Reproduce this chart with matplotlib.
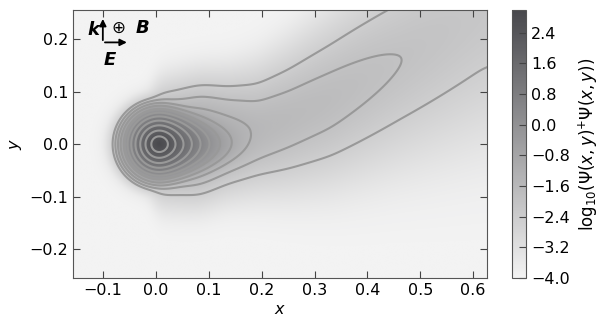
import numpy as np
import matplotlib.pyplot as plt
from matplotlib.colors import LinearSegmentedColormap

plt.rcParams['font.family'] = ['DejaVu Sans']
plt.rcParams['mathtext.fontset'] = 'dejavusans'
plt.rcParams['font.size'] = 11.5

# contour levels and colorbar ticks (log10 density)
levels = [-2.5, -2.0, -1.5, -1.0, -0.5, 0.0, 0.5, 1.0, 1.5, 2.0, 2.5]
cbar_ticks = [-4.0, -3.2, -2.4, -1.6, -0.8, 0.0, 0.8, 1.6, 2.4]
x_ticks = [-0.1, 0.0, 0.1, 0.2, 0.3, 0.4, 0.5, 0.6]
y_ticks = [-0.2, -0.1, 0.0, 0.1, 0.2]

# bound core: ring radius (read on the left side) vs log10 density
core_center = [0.006, 0.0]
core_r = [0.0, 0.015, 0.026, 0.036, 0.045, 0.053, 0.060, 0.067, 0.073, 0.078, 0.083, 0.088, 0.108, 0.3]
core_logrho = [2.95, 2.5, 2.0, 1.5, 1.0, 0.5, 0.0, -0.5, -1.0, -1.5, -2.0, -2.5, -4.0, -14.0]
core_stretch = 6.0  # egg shape toward +x

# ionised tail: peak log10 density, centre line and width along x
tail_x = [-0.2, -0.06, -0.02, 0.0, 0.081, 0.138, 0.19, 0.25, 0.33, 0.46, 0.62, 0.75]
tail_peak = [-14.0, -6.0, -2.5, -1.1, -0.85, -1.3, -1.62, -1.7, -1.78, -2.0, -2.2, -2.3]
tail_center = [0.0, 0.0, 0.0, 0.0, 0.008, 0.018, 0.028, 0.048, 0.084, 0.157, 0.255, 0.325]
tail_width = [0.07, 0.07, 0.07, 0.07, 0.072, 0.076, 0.086, 0.1, 0.12, 0.155, 0.205, 0.24]

xg = np.linspace(-0.16, 0.63, 800)
yg = np.linspace(-0.26, 0.26, 520)
xx, yy = np.meshgrid(xg, yg)


def smooth(v, n=14):
    k = np.exp(-0.5 * (np.arange(-3 * n, 3 * n + 1) / n) ** 2)
    k /= k.sum()
    vp = np.pad(v, 3 * n, mode='edge')
    return np.convolve(vp, k, mode='valid')


t_peak = smooth(np.interp(xg, tail_x, tail_peak))
t_cen = smooth(np.interp(xg, tail_x, tail_center))
t_wid = smooth(np.interp(xg, tail_x, tail_width))

dx = xx - core_center[0]
dy = yy - core_center[1]
sx = np.where(dx > 0, 1 + core_stretch * dx, 1.0)
r_eff = np.sqrt((dx / sx) ** 2 + dy ** 2)
core = 10 ** np.interp(r_eff, core_r, core_logrho)

u = np.abs(yy - t_cen[None, :]) / t_wid[None, :]
prof = (u ** 2 + 0.09) ** 0.75 - 0.09 ** 0.75
tail = 10 ** (t_peak[None, :] - prof)

logrho = np.log10(core + tail + 1e-4)

cmap = LinearSegmentedColormap.from_list('grey', ['#f3f3f3', '#48484c'])

fig = plt.figure(figsize=(6.04, 3.29), dpi=100)
ax = fig.add_axes([0.121, 0.155, 0.685, 0.815])
cax = fig.add_axes([0.848, 0.155, 0.023, 0.815])

im = ax.imshow(logrho, extent=[xg[0], xg[-1], yg[0], yg[-1]], origin='lower',
               cmap=cmap, vmin=-4.0, vmax=3.0, aspect='auto', interpolation='bilinear')
ax.contour(xx, yy, logrho, levels=levels, colors='#999999', linewidths=1.5,
           linestyles='solid')

ax.set_xlim(-0.157, 0.626)
ax.set_ylim(-0.255, 0.256)
ax.set_xticks(x_ticks)
ax.set_yticks(y_ticks)
ax.set_xticklabels([f'{v:.1f}'.replace('-', '\u2212') for v in x_ticks])
ax.set_yticklabels([f'{v:.1f}'.replace('-', '\u2212') for v in y_ticks])
ax.tick_params(direction='in', top=True, right=True, length=5, color='#444444')
for s in ax.spines.values():
    s.set_color('#555555')
ax.set_xlabel('$x$', labelpad=3)
ax.set_ylabel('$y$', labelpad=4)

# field orientation sketch
ax.annotate('', xy=(-0.1007, 0.244), xytext=(-0.1007, 0.193),
            arrowprops=dict(arrowstyle='-|>', color='black', lw=1.3, mutation_scale=10))
ax.annotate('', xy=(-0.05, 0.194), xytext=(-0.102, 0.194),
            arrowprops=dict(arrowstyle='-|>', color='black', lw=1.3, mutation_scale=10))
ax.text(-0.118, 0.217, 'k', fontweight='bold', style='italic', ha='center', va='center', fontsize=13)
ax.text(-0.072, 0.222, '\u2295', ha='center', va='center', fontsize=12)
ax.text(-0.026, 0.222, 'B', fontweight='bold', style='italic', ha='center', va='center', fontsize=13)
ax.text(-0.087, 0.16, 'E', fontweight='bold', style='italic', ha='center', va='center', fontsize=13)

cb = fig.colorbar(im, cax=cax, ticks=cbar_ticks)
cb.ax.set_yticklabels([f'{v:.1f}'.replace('-', '\u2212') for v in cbar_ticks])
cb.ax.tick_params(direction='in', length=5, color='#444444')
cb.outline.set_edgecolor('#555555')
cb.set_label(r'$\mathrm{log}_{10}(\Psi(x,y)^{+}\Psi(x,y))$', labelpad=5, fontsize=12)

fig.savefig('out.png', dpi=100)
